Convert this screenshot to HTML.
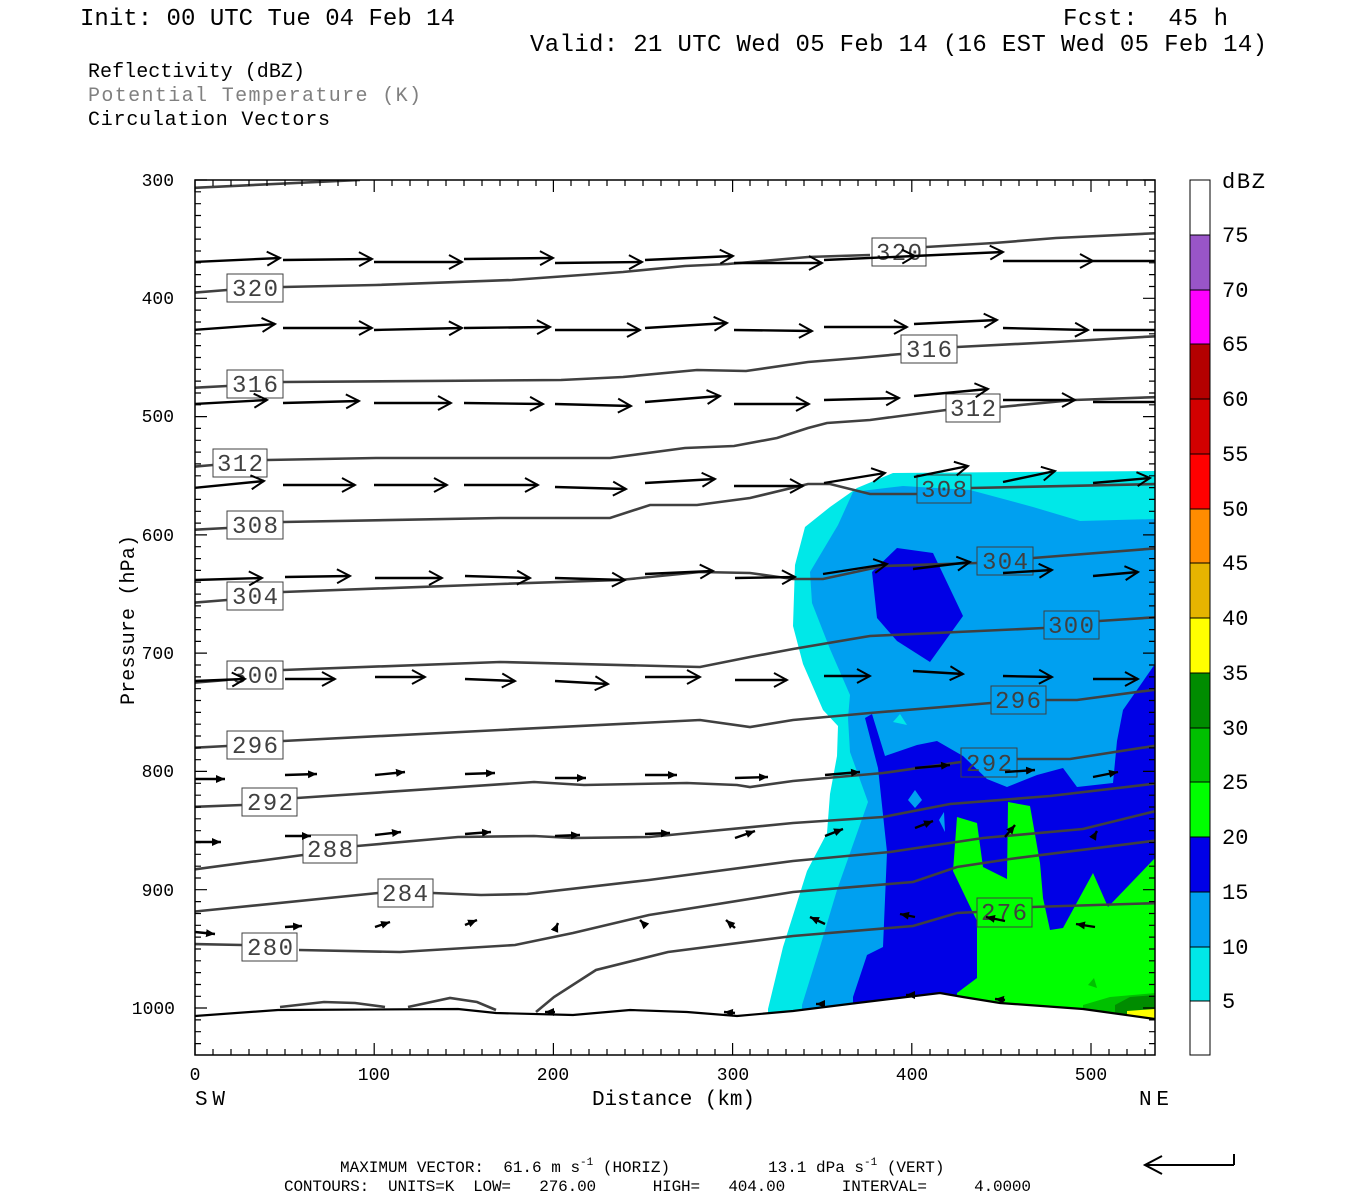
<!DOCTYPE html>
<html><head><meta charset="utf-8"><style>html,body{margin:0;padding:0;background:#fff}svg{display:block}svg text{white-space:pre}</style></head>
<body>
<svg width="1350" height="1200" viewBox="0 0 1350 1200" xmlns="http://www.w3.org/2000/svg" font-family="Liberation Mono, monospace" xml:space="preserve">
<defs>
<marker id="a" markerWidth="16" markerHeight="16" refX="14" refY="8" orient="auto" markerUnits="userSpaceOnUse"><path d="M1,1 L14,8 L1,15" fill="none" stroke="#000" stroke-width="2"/></marker>
<marker id="b" markerWidth="10" markerHeight="10" refX="9" refY="5" orient="auto" markerUnits="userSpaceOnUse"><path d="M0,1 L9,5 L0,9 Z" fill="#000"/></marker>
<clipPath id="pc"><rect x="195" y="180" width="960" height="875"/></clipPath>
</defs>
<text x="80" y="25" font-size="24" textLength="375">Init: 00 UTC Tue 04 Feb 14</text>
<text x="1063" y="25" font-size="24" textLength="165">Fcst:  45 h</text>
<text x="530" y="51" font-size="24" textLength="737">Valid: 21 UTC Wed 05 Feb 14 (16 EST Wed 05 Feb 14)</text>
<text x="88" y="77" font-size="20" textLength="217">Reflectivity (dBZ)</text>
<text x="88" y="101" font-size="20" textLength="333" fill="#808080">Potential Temperature (K)</text>
<text x="88" y="125" font-size="20" textLength="242">Circulation Vectors</text>

<g clip-path="url(#pc)">
<path fill="#00e8e8" d="M857,488 L893,473 L1155,471 L1155,1030 L768,1030 L768,1009 L783,947 L807,871 L827,833 L830,794 L837,756 L838,726 L823,710 L803,664 L793,626 L795,565 L805,527 L830,507 Z"/>
<path fill="#00a0f0" d="M838,525 L853,492 L903,486 L970,490 L1033,507 L1080,521 L1155,519 L1155,1030 L802,1030 L802,1005 L820,947 L837,890 L868,802 L850,752 L848,718 L850,695 L830,649 L812,603 L810,572 Z"/>
<path fill="#00e8e8" d="M893,722 L900,714 L907,725 Z"/>
<path fill="#0000e6" d="M853,1030 L853,997 L867,955 L883,947 L887,852 L878,768 L865,718 L872,714 L885,756 L917,745 L937,741 L963,756 L987,779 L1007,787 L1037,775 L1063,768 L1077,787 L1113,783 L1117,741 L1123,710 L1155,664 L1155,1030 Z"/>
<path fill="#00a0f0" d="M908,800 L915,790 L922,800 L915,808 Z M939,820 L944,812 L945,832 Z"/>
<path fill="#0000e6" d="M897,548 L933,553 L963,616 L930,662 L897,641 L877,618 L872,572 Z"/>
<path fill="#00ff00" d="M957,817 L977,823 L983,867 L1007,879 L1008,802 L1030,806 L1040,863 L1043,898 L1050,930 L1063,928 L1093,873 L1108,907 L1155,858 L1155,1030 L957,1030 L957,993 L977,978 L977,921 L953,871 Z"/>
<path fill="#00c000" d="M1083,1005 L1110,997 L1155,993 L1155,1030 L1083,1030 Z"/>
<path fill="#008c00" d="M1115,1005 L1130,997 L1155,995 L1155,1030 L1115,1030 Z"/>
<path fill="#00c000" d="M1088,985 L1094,978 L1097,988 Z"/>
<path fill="#ffff00" d="M1127,1011 L1155,1009 L1155,1020 L1127,1020 Z"/>
<path fill="#fff" d="M195,1016 L278,1010 L458,1009 L496,1013 L573,1015 L630,1010 L687,1012 L737,1016 L793,1011 L857,1003 L940,993 L963,997 L1000,1003 L1083,1009 L1155,1019 L1155,1060 L195,1060 Z"/>
<polyline fill="none" stroke="#000" stroke-width="2.2" points="195,1016 278,1010 458,1009 496,1013 573,1015 630,1010 687,1012 737,1016 793,1011 857,1003 940,993 963,997 1000,1003 1083,1009 1155,1019"/>

<g fill="none" stroke="#404040" stroke-width="2.6">
<polyline points="190,188 360,180"/>
<polyline points="190,293 227,290"/><polyline points="283,287 376,285 512,280 623,272 685,266 728,264 808,257 870,255"/><polyline points="926,247 994,243 1056,238 1160,233"/>
<polyline points="190,388 227,386"/><polyline points="283,382 561,380 623,377 697,370 746,371 808,362 858,358 901,354"/><polyline points="957,347 1056,342 1160,336"/>
<polyline points="190,467 213,465"/><polyline points="267,460 376,458 610,458 685,448 734,446 777,438 808,428 827,423 870,420 946,410"/><polyline points="1000,407 1074,400 1160,397"/>
<polyline points="190,530 227,528"/><polyline points="283,522 500,518 610,518 650,505 697,505 750,498 808,484 830,484 870,494 917,494"/><polyline points="971,488 1160,484"/>
<polyline points="190,603 227,600"/><polyline points="283,592 500,584 620,580 700,572 750,573 793,579 823,579 883,566 977,563"/><polyline points="1033,558 1160,548"/>
<polyline points="190,683 227,680"/><polyline points="283,670 500,662 700,667 750,657 793,649 870,636 1044,628"/><polyline points="1099,621 1160,617"/>
<polyline points="190,748 227,746"/><polyline points="283,741 500,730 700,720 750,727 793,720 870,713 991,703"/><polyline points="1046,700 1077,700 1160,689"/>
<polyline points="190,807 242,805"/><polyline points="297,798 534,782 584,785 687,783 737,785 750,787 793,781 883,773 961,762"/><polyline points="1017,759 1070,759 1160,745"/>
<polyline points="190,870 303,855"/><polyline points="357,846 458,837 534,836 573,838 649,837 793,823 883,817 950,804 1050,796 1160,783"/>
<polyline points="190,912 378,893"/><polyline points="433,893 481,895 527,894 649,880 793,861 890,852 983,838 1083,829 1160,810"/>
<polyline points="190,944 242,945"/><polyline points="299,950 400,952 515,945 573,933 649,915 793,892 913,882 957,867 1010,859 1160,840"/>
<polyline points="536,1012 554,997 596,970 668,952 793,936 913,926 957,913 977,912"/><polyline points="1032,907 1160,903"/>
<polyline points="280,1007 324,1002 355,1003 385,1007"/>
<polyline points="408,1007 450,998 477,1002 496,1010"/>
</g>
<g font-size="24" fill="#404040" text-anchor="middle">
<rect x="227" y="274" width="56" height="28" fill="#fff" stroke="#404040"/><text x="255" y="296" textLength="46">320</text>
<rect x="872" y="238" width="54" height="28" fill="#fff" stroke="#404040"/><text x="899" y="260" textLength="46">320</text>
<rect x="227" y="370" width="56" height="28" fill="#fff" stroke="#404040"/><text x="255" y="392" textLength="46">316</text>
<rect x="901" y="335" width="56" height="28" fill="#fff" stroke="#404040"/><text x="929" y="357" textLength="46">316</text>
<rect x="213" y="449" width="54" height="28" fill="#fff" stroke="#404040"/><text x="240" y="471" textLength="46">312</text>
<rect x="946" y="394" width="54" height="28" fill="#fff" stroke="#404040"/><text x="973" y="416" textLength="46">312</text>
<rect x="227" y="511" width="56" height="28" fill="#fff" stroke="#404040"/><text x="255" y="533" textLength="46">308</text>
<rect x="917" y="475" width="54" height="28" fill="none" stroke="#404040"/><text x="944" y="497" textLength="46">308</text>
<rect x="227" y="582" width="56" height="28" fill="#fff" stroke="#404040"/><text x="255" y="604" textLength="46">304</text>
<rect x="977" y="547" width="56" height="28" fill="none" stroke="#404040"/><text x="1005" y="569" textLength="46">304</text>
<rect x="227" y="661" width="56" height="28" fill="#fff" stroke="#404040"/><text x="255" y="683" textLength="46">300</text>
<rect x="1044" y="611" width="55" height="28" fill="none" stroke="#404040"/><text x="1071" y="633" textLength="46">300</text>
<rect x="227" y="731" width="56" height="28" fill="#fff" stroke="#404040"/><text x="255" y="753" textLength="46">296</text>
<rect x="991" y="686" width="55" height="28" fill="none" stroke="#404040"/><text x="1018" y="708" textLength="46">296</text>
<rect x="242" y="788" width="55" height="28" fill="#fff" stroke="#404040"/><text x="270" y="810" textLength="46">292</text>
<rect x="961" y="748" width="56" height="29" fill="none" stroke="#404040"/><text x="989" y="771" textLength="46">292</text>
<rect x="303" y="835" width="54" height="28" fill="#fff" stroke="#404040"/><text x="330" y="857" textLength="46">288</text>
<rect x="378" y="879" width="55" height="28" fill="#fff" stroke="#404040"/><text x="405" y="901" textLength="46">284</text>
<rect x="242" y="933" width="55" height="28" fill="#fff" stroke="#404040"/><text x="270" y="955" textLength="46">280</text>
<rect x="977" y="898" width="55" height="29" fill="none" stroke="#404040"/><text x="1004" y="920" textLength="46">276</text>
</g>

<g stroke="#000" stroke-width="2.4" marker-end="url(#a)">
<line x1="193" y1="262" x2="280" y2="258"/><line x1="283" y1="260" x2="372" y2="259"/><line x1="374" y1="262" x2="462" y2="262"/><line x1="464" y1="259" x2="553" y2="258"/><line x1="555" y1="263" x2="642" y2="262"/><line x1="645" y1="260" x2="733" y2="256"/><line x1="734" y1="263" x2="822" y2="263"/><line x1="824" y1="260" x2="915" y2="256"/><line x1="914" y1="256" x2="1003" y2="252"/><line x1="1003" y1="261" x2="1093" y2="261"/>
<line x1="193" y1="330" x2="275" y2="324"/><line x1="283" y1="328" x2="372" y2="328"/><line x1="374" y1="330" x2="462" y2="328"/><line x1="464" y1="328" x2="550" y2="327"/><line x1="555" y1="330" x2="640" y2="330"/><line x1="645" y1="328" x2="727" y2="323"/><line x1="734" y1="330" x2="812" y2="331"/><line x1="824" y1="327" x2="907" y2="327"/><line x1="914" y1="324" x2="997" y2="320"/><line x1="1003" y1="328" x2="1088" y2="330"/>
<line x1="193" y1="404" x2="267" y2="400"/><line x1="283" y1="403" x2="359" y2="401"/><line x1="374" y1="403" x2="451" y2="403"/><line x1="464" y1="403" x2="543" y2="404"/><line x1="555" y1="404" x2="631" y2="406"/><line x1="645" y1="402" x2="720" y2="396"/><line x1="734" y1="404" x2="809" y2="404"/><line x1="824" y1="400" x2="899" y2="398"/><line x1="914" y1="396" x2="988" y2="389"/><line x1="1003" y1="400" x2="1075" y2="400"/>
<line x1="193" y1="488" x2="264" y2="481"/><line x1="283" y1="485" x2="355" y2="485"/><line x1="374" y1="485" x2="447" y2="485"/><line x1="464" y1="485" x2="538" y2="485"/><line x1="555" y1="487" x2="626" y2="489"/><line x1="645" y1="483" x2="715" y2="479"/><line x1="734" y1="486" x2="803" y2="486"/><line x1="824" y1="483" x2="885" y2="473"/><line x1="914" y1="477" x2="968" y2="466"/><line x1="1003" y1="482" x2="1055" y2="471"/><line x1="1093" y1="483" x2="1150" y2="478"/>
<line x1="195" y1="580" x2="262" y2="578"/><line x1="285" y1="577" x2="350" y2="576"/><line x1="375" y1="578" x2="442" y2="578"/><line x1="465" y1="576" x2="530" y2="578"/><line x1="555" y1="578" x2="625" y2="580"/><line x1="645" y1="574" x2="713" y2="571"/><line x1="735" y1="578" x2="795" y2="577"/><line x1="823" y1="574" x2="887" y2="564"/><line x1="913" y1="569" x2="970" y2="562"/><line x1="1003" y1="573" x2="1052" y2="570"/><line x1="1093" y1="576" x2="1138" y2="572"/>
<line x1="195" y1="681" x2="245" y2="679"/><line x1="285" y1="679" x2="335" y2="679"/><line x1="375" y1="677" x2="425" y2="677"/><line x1="465" y1="679" x2="515" y2="681"/><line x1="555" y1="681" x2="608" y2="684"/><line x1="645" y1="677" x2="700" y2="677"/><line x1="735" y1="680" x2="787" y2="680"/><line x1="824" y1="676" x2="870" y2="676"/><line x1="913" y1="671" x2="963" y2="674"/><line x1="1003" y1="676" x2="1052" y2="677"/><line x1="1093" y1="679" x2="1138" y2="679"/>
</g>
<g stroke="#000" stroke-width="2.4" marker-end="url(#b)">
<line x1="195" y1="779" x2="225" y2="779"/><line x1="285" y1="775" x2="317" y2="774"/><line x1="375" y1="775" x2="405" y2="772"/><line x1="465" y1="774" x2="495" y2="773"/><line x1="555" y1="778" x2="586" y2="778"/><line x1="645" y1="775" x2="677" y2="775"/><line x1="735" y1="778" x2="768" y2="777"/><line x1="825" y1="775" x2="860" y2="772"/><line x1="915" y1="768" x2="950" y2="765"/><line x1="1005" y1="772" x2="1035" y2="770"/><line x1="1093" y1="777" x2="1118" y2="772"/>
<line x1="195" y1="842" x2="221" y2="842"/><line x1="285" y1="836" x2="311" y2="836"/><line x1="375" y1="835" x2="401" y2="832"/><line x1="465" y1="834" x2="491" y2="832"/><line x1="555" y1="836" x2="580" y2="835"/><line x1="645" y1="834" x2="670" y2="833"/><line x1="735" y1="838" x2="755" y2="831"/><line x1="825" y1="836" x2="843" y2="829"/><line x1="915" y1="828" x2="933" y2="821"/><line x1="1005" y1="837" x2="1015" y2="825"/><line x1="1093" y1="838" x2="1097" y2="831"/>
<line x1="195" y1="932" x2="215" y2="934"/><line x1="285" y1="927" x2="302" y2="926"/><line x1="375" y1="927" x2="390" y2="922"/><line x1="465" y1="925" x2="477" y2="920"/><line x1="555" y1="930" x2="558" y2="923"/><line x1="645" y1="925" x2="640" y2="920"/><line x1="735" y1="928" x2="726" y2="920"/><line x1="825" y1="924" x2="810" y2="917"/><line x1="915" y1="917" x2="900" y2="914"/><line x1="1005" y1="921" x2="986" y2="917"/><line x1="1095" y1="927" x2="1076" y2="924"/>
<line x1="555" y1="1012" x2="545" y2="1012"/><line x1="735" y1="1013" x2="724" y2="1012"/><line x1="825" y1="1004" x2="816" y2="1004"/><line x1="915" y1="995" x2="906" y2="995"/><line x1="1005" y1="1000" x2="995" y2="999"/>
</g>
<line x1="1093" y1="261" x2="1160" y2="261" stroke="#000" stroke-width="2.4"/>
<line x1="1093" y1="330" x2="1160" y2="330" stroke="#000" stroke-width="2.4"/>
<line x1="1093" y1="402" x2="1160" y2="402" stroke="#000" stroke-width="2.4"/>
</g>

<rect x="195" y="180" width="960" height="875" fill="none" stroke="#000" stroke-width="1.5"/>
<g stroke="#000" stroke-width="1.2">
<path d="M195,1055v-12M374.2,1055v-12M553.4,1055v-12M732.6,1055v-12M911.8,1055v-12M1091,1055v-12 M195,180v12M374.2,180v12M553.4,180v12M732.6,180v12M911.8,180v12M1091,180v12"/>
<path d="M213,1055v-6M231,1055v-6M249,1055v-6M267,1055v-6M285,1055v-6M302,1055v-6M320,1055v-6M338,1055v-6M356,1055v-6M392,1055v-6M410,1055v-6M428,1055v-6M446,1055v-6M464,1055v-6M482,1055v-6M500,1055v-6M518,1055v-6M536,1055v-6M571,1055v-6M589,1055v-6M607,1055v-6M625,1055v-6M643,1055v-6M661,1055v-6M679,1055v-6M697,1055v-6M715,1055v-6M750,1055v-6M768,1055v-6M786,1055v-6M804,1055v-6M822,1055v-6M840,1055v-6M858,1055v-6M876,1055v-6M894,1055v-6M930,1055v-6M948,1055v-6M965,1055v-6M983,1055v-6M1001,1055v-6M1019,1055v-6M1037,1055v-6M1055,1055v-6M1073,1055v-6M1109,1055v-6M1127,1055v-6M1145,1055v-6"/>
<path d="M213,180v6M231,180v6M249,180v6M267,180v6M285,180v6M302,180v6M320,180v6M338,180v6M356,180v6M392,180v6M410,180v6M428,180v6M446,180v6M464,180v6M482,180v6M500,180v6M518,180v6M536,180v6M571,180v6M589,180v6M607,180v6M625,180v6M643,180v6M661,180v6M679,180v6M697,180v6M715,180v6M750,180v6M768,180v6M786,180v6M804,180v6M822,180v6M840,180v6M858,180v6M876,180v6M894,180v6M930,180v6M948,180v6M965,180v6M983,180v6M1001,180v6M1019,180v6M1037,180v6M1055,180v6M1073,180v6M1109,180v6M1127,180v6M1145,180v6"/>
<path d="M195,180h12M195,298.3h12M195,416.6h12M195,534.9h12M195,653.1h12M195,771.4h12M195,889.7h12M195,1008h12 M1155,180h-12M1155,298.3h-12M1155,416.6h-12M1155,534.9h-12M1155,653.1h-12M1155,771.4h-12M1155,889.7h-12M1155,1008h-12"/>
<path d="M195,191.8h6M195,203.7h6M195,215.5h6M195,227.3h6M195,239.1h6M195,251h6M195,262.8h6M195,274.6h6M195,286.5h6M195,310.1h6M195,322h6M195,333.8h6M195,345.6h6M195,357.5h6M195,369.3h6M195,381.1h6M195,393h6M195,404.8h6M195,428.4h6M195,440.3h6M195,452.1h6M195,463.9h6M195,475.8h6M195,487.6h6M195,499.4h6M195,511.3h6M195,523.1h6M195,546.7h6M195,558.6h6M195,570.4h6M195,582.2h6M195,594.1h6M195,605.9h6M195,617.7h6M195,629.6h6M195,641.4h6M195,665h6M195,676.9h6M195,688.7h6M195,700.5h6M195,712.4h6M195,724.2h6M195,736h6M195,747.9h6M195,759.7h6M195,783.3h6M195,795.2h6M195,807h6M195,818.8h6M195,830.7h6M195,842.5h6M195,854.3h6M195,866.2h6M195,878h6M195,901.6h6M195,913.5h6M195,925.3h6M195,937.1h6M195,949h6M195,960.8h6M195,972.6h6M195,984.5h6M195,996.3h6M195,1019.9h6M195,1031.7h6M195,1043.6h6"/>
<path d="M1155,191.8h-6M1155,203.7h-6M1155,215.5h-6M1155,227.3h-6M1155,239.1h-6M1155,251h-6M1155,262.8h-6M1155,274.6h-6M1155,286.5h-6M1155,310.1h-6M1155,322h-6M1155,333.8h-6M1155,345.6h-6M1155,357.5h-6M1155,369.3h-6M1155,381.1h-6M1155,393h-6M1155,404.8h-6M1155,428.4h-6M1155,440.3h-6M1155,452.1h-6M1155,463.9h-6M1155,475.8h-6M1155,487.6h-6M1155,499.4h-6M1155,511.3h-6M1155,523.1h-6M1155,546.7h-6M1155,558.6h-6M1155,570.4h-6M1155,582.2h-6M1155,594.1h-6M1155,605.9h-6M1155,617.7h-6M1155,629.6h-6M1155,641.4h-6M1155,665h-6M1155,676.9h-6M1155,688.7h-6M1155,700.5h-6M1155,712.4h-6M1155,724.2h-6M1155,736h-6M1155,747.9h-6M1155,759.7h-6M1155,783.3h-6M1155,795.2h-6M1155,807h-6M1155,818.8h-6M1155,830.7h-6M1155,842.5h-6M1155,854.3h-6M1155,866.2h-6M1155,878h-6M1155,901.6h-6M1155,913.5h-6M1155,925.3h-6M1155,937.1h-6M1155,949h-6M1155,960.8h-6M1155,972.6h-6M1155,984.5h-6M1155,996.3h-6M1155,1019.9h-6M1155,1031.7h-6M1155,1043.6h-6"/>
</g>

<g font-size="18" text-anchor="end">
<text x="174" y="186">300</text><text x="174" y="304">400</text><text x="174" y="422">500</text><text x="174" y="541">600</text><text x="174" y="659">700</text><text x="174" y="777">800</text><text x="174" y="896">900</text><text x="175" y="1014">1000</text>
</g>
<g font-size="18" text-anchor="middle">
<text x="195" y="1080">0</text><text x="374" y="1080">100</text><text x="553" y="1080">200</text><text x="733" y="1080">300</text><text x="912" y="1080">400</text><text x="1091" y="1080">500</text>
</g>
<text x="195" y="1105" font-size="21" textLength="30">SW</text>
<text x="1139" y="1105" font-size="21" textLength="30">NE</text>
<text x="592" y="1105" font-size="21" textLength="163">Distance (km)</text>
<text transform="translate(134,705) rotate(-90)" font-size="20" textLength="170">Pressure (hPa)</text>

<g stroke="#000" stroke-width="1">
<rect x="1190" y="180" width="20" height="55" fill="#fff"/>
<rect x="1190" y="235" width="20" height="55" fill="#9955c8"/>
<rect x="1190" y="290" width="20" height="54" fill="#ff00ff"/>
<rect x="1190" y="344" width="20" height="55" fill="#b40000"/>
<rect x="1190" y="399" width="20" height="55" fill="#d20000"/>
<rect x="1190" y="454" width="20" height="55" fill="#ff0000"/>
<rect x="1190" y="509" width="20" height="54" fill="#ff8c00"/>
<rect x="1190" y="563" width="20" height="55" fill="#e6b400"/>
<rect x="1190" y="618" width="20" height="55" fill="#ffff00"/>
<rect x="1190" y="673" width="20" height="55" fill="#008c00"/>
<rect x="1190" y="728" width="20" height="54" fill="#00c000"/>
<rect x="1190" y="782" width="20" height="55" fill="#00ff00"/>
<rect x="1190" y="837" width="20" height="55" fill="#0000e6"/>
<rect x="1190" y="892" width="20" height="55" fill="#00a0f0"/>
<rect x="1190" y="947" width="20" height="54" fill="#00e8e8"/>
<rect x="1190" y="1001" width="20" height="54" fill="#fff"/>
</g>
<g font-size="22">
<text x="1222" y="188" textLength="43">dBZ</text>
<text x="1222" y="242">75</text><text x="1222" y="297">70</text><text x="1222" y="351">65</text><text x="1222" y="406">60</text><text x="1222" y="461">55</text><text x="1222" y="516">50</text><text x="1222" y="570">45</text><text x="1222" y="625">40</text><text x="1222" y="680">35</text><text x="1222" y="735">30</text><text x="1222" y="789">25</text><text x="1222" y="844">20</text><text x="1222" y="899">15</text><text x="1222" y="954">10</text><text x="1222" y="1008">5</text>
</g>

<g font-size="16">
<text x="340" y="1172">MAXIMUM VECTOR:  61.6 m s<tspan font-size="11" dy="-7">-1</tspan><tspan dy="7"> (HORIZ)</tspan></text>
<text x="768" y="1172">13.1 dPa s<tspan font-size="11" dy="-7">-1</tspan><tspan dy="7"> (VERT)</tspan></text>
<text x="284" y="1191" textLength="747">CONTOURS:  UNITS=K  LOW=   276.00      HIGH=   404.00      INTERVAL=     4.0000</text>
</g>
<g stroke="#000" stroke-width="2" fill="none">
<path d="M1234,1165 H1146 M1162,1156 L1145,1165 L1162,1174 M1234,1165 V1154"/>
</g>
</svg>
</body></html>
